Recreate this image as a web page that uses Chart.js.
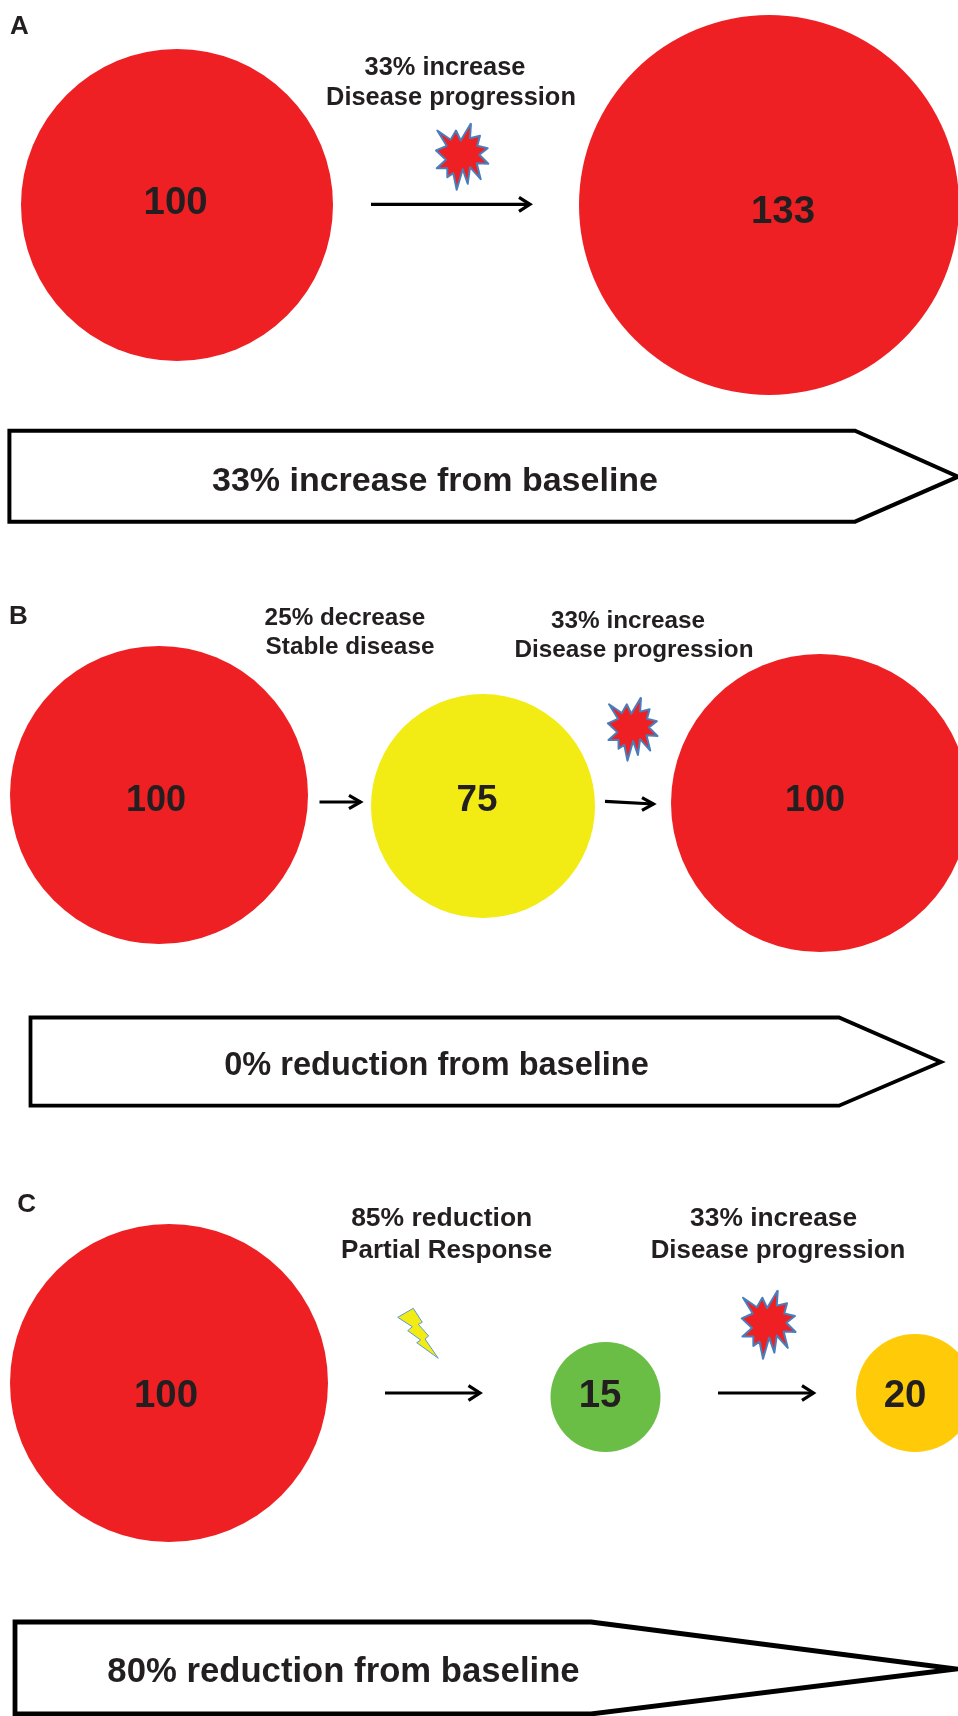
<!DOCTYPE html>
<html>
<head>
    <title>Tumour size change from baseline</title>
    <script src="https://cdn.jsdelivr.net/npm/chart.js"></script>
    <style>
        html, body { margin: 0; padding: 0; background: #fff; }
        canvas { display: block; }
    </style>
</head>
<body>
    <canvas id="tumourChart" width="958" height="1716"></canvas>

    <script>
        // tumours (axis units run 0-958 across, 0-1716 down)
        const tumourLabels = ['100', '133', '100', '75', '100', '100', '15', '20'];
        const tumourX = [177, 769, 159, 483, 820, 169, 605.5, 915];
        const tumourY = [205, 205, 795, 806, 803, 1383, 1397, 1393];
        const tumourR = [156, 190, 149, 112, 149, 159, 55, 59];
        const tumourColors = ['#EE2024', '#EE2024', '#EE2024', '#F2EB14', '#EE2024', '#EE2024', '#6ABD45', '#FFCB08'];

        // burst marker outline, offsets from its middle
        const burstDx = [9, 8, 18, 15.3, 25.7, 17.3, 26.3, 14.7, 18.7, 8, 5.7, 0.7, -5.3, -8.7, -14.7, -14.7, -25.3, -16, -26, -15.3, -24.7, -11.3, -6, -1.3, 9];
        const burstDy = [-33.3, -18.3, -20.7, -10.7, -8.3, -1.7, 7.3, 6.7, 22.7, 10.7, 27.3, 12.7, 33.3, 16.7, 20.7, 11.7, 11.7, 3.3, -6, -10.7, -26, -16.7, -26, -16, -33.3];
        const burstCentreX = [462, 632.5, 768.5];
        const burstCentreY = [156.5, 729, 1324.5];
        const burstScale = [1, 0.95, 1.03];

        const boltX = [397.7, 413.3, 422.3, 418.3, 428.7, 425, 438.3, 416.7, 420.7, 407.7, 412.3, 397.7];
        const boltY = [1317.3, 1308.3, 1322.3, 1324.3, 1336, 1339, 1358.3, 1342.7, 1340, 1330.7, 1326.7, 1317.3];

        // arrows: start, end, head back position and half height
        const arrowX1 = [371, 319.5, 605, 385, 718];
        const arrowY1 = [204.3, 802, 801.4, 1393, 1393];
        const arrowX2 = [530, 360.5, 653.5, 480, 813.5];
        const arrowY2 = [204.3, 802, 804, 1393, 1393];
        const arrowHeadX = [519, 349, 642, 468.5, 802];
        const arrowHeadH = [7, 6.6, 6.4, 7.4, 7.4];

        // baseline block arrows
        const blockLeft = [9.4, 30.5, 15];
        const blockTop = [430.7, 1017.5, 1622];
        const blockBottom = [521.7, 1105.7, 1714];
        const blockShoulder = [855, 839, 591];
        const blockTip = [958, 941, 956];
        const blockTipY = [476.7, 1062, 1669];
        const blockStroke = [4, 3.8, 4.8];

        // texts
        const textStrings = [
            'A', '33% increase', 'Disease progression', '33% increase from baseline',
            'B', '25% decrease', 'Stable disease', '33% increase', 'Disease progression', '0% reduction from baseline',
            'C', '85% reduction', 'Partial Response', '33% increase', 'Disease progression', '80% reduction from baseline'
        ];
        const textX = [19.5, 445, 451, 435, 18.5, 345, 350, 628, 634, 436.5, 26.7, 441.7, 446.6, 773.6, 778, 343.5];
        const textY = [34, 75, 105, 491, 623.6, 624.6, 654, 627.5, 657, 1075, 1212, 1226, 1257.5, 1226, 1257.5, 1682];
        const textSize = [26, 25.4, 25.4, 34, 26, 24.3, 24.3, 24.3, 24.3, 32.5, 26, 26.5, 26, 26.35, 25.9, 34.7];
        const tumourTextX = [175.6, 783, 156, 477, 815, 166, 600, 905];
        const tumourTextY = [214, 223, 811, 811, 811, 1407, 1407, 1407];
        const tumourTextSize = [38.4, 38.4, 36, 36.9, 36, 38.4, 38.4, 38.4];

        const textColor = '#231F20';

        function toPoints(xs, ys) {
            return xs.map((x, i) => ({ x: x, y: ys[i] }));
        }

        function outline(points, color, width) {
            return {
                type: 'scatter',
                data: points,
                showLine: true,
                fill: false,
                borderColor: color,
                borderWidth: width,
                borderJoinStyle: 'miter',
                tension: 0,
                pointRadius: 0,
                clip: false
            };
        }

        function filledOutline(points, fillColor, lineColor, width) {
            const ds = outline(points, lineColor, width);
            ds.fill = 'shape';
            ds.backgroundColor = fillColor;
            ds.borderJoinStyle = 'round';
            return ds;
        }

        const datasets = [];

        // one bubble per tumour so each keeps its own colour
        datasets.push({
            type: 'bubble',
            data: tumourX.map((x, i) => ({ x: x, y: tumourY[i], r: tumourR[i] })),
            backgroundColor: tumourColors,
            borderWidth: 0,
            clip: false
        });

        burstCentreX.forEach((cx, n) => {
            const pts = burstDx.map((dx, i) => ({
                x: cx + dx * burstScale[n],
                y: burstCentreY[n] + burstDy[i] * burstScale[n]
            }));
            datasets.push(filledOutline(pts, '#EE2024', '#4A7EBB', 2));
        });

        datasets.push(filledOutline(toPoints(boltX, boltY), '#F2EB14', '#5B9BD5', 1));

        arrowX1.forEach((x1, i) => {
            datasets.push(outline([{ x: x1, y: arrowY1[i] }, { x: arrowX2[i], y: arrowY2[i] }], '#000', 3.2));
            datasets.push(outline([
                { x: arrowHeadX[i], y: arrowY2[i] - arrowHeadH[i] },
                { x: arrowX2[i], y: arrowY2[i] },
                { x: arrowHeadX[i], y: arrowY2[i] + arrowHeadH[i] }
            ], '#000', 3.2));
        });

        // block outlines start halfway up the left edge so the corners join cleanly
        blockLeft.forEach((left, i) => {
            datasets.push(outline([
                { x: left, y: blockTipY[i] },
                { x: left, y: blockTop[i] },
                { x: blockShoulder[i], y: blockTop[i] },
                { x: blockTip[i], y: blockTipY[i] },
                { x: blockShoulder[i], y: blockBottom[i] },
                { x: left, y: blockBottom[i] },
                { x: left, y: blockTipY[i] }
            ], '#000', blockStroke[i]));
        });

        // inline plugin for the words, placed through the chart scales
        const wordsPlugin = {
            id: 'words',
            afterDatasetsDraw(chart) {
                const ctx = chart.ctx;
                const sx = chart.scales.x;
                const sy = chart.scales.y;
                ctx.save();
                ctx.fillStyle = textColor;
                ctx.textAlign = 'center';
                ctx.textBaseline = 'alphabetic';
                textStrings.forEach((s, i) => {
                    ctx.font = 'bold ' + textSize[i] + 'px "Liberation Sans", Arial, sans-serif';
                    ctx.fillText(s, sx.getPixelForValue(textX[i]), sy.getPixelForValue(textY[i]));
                });
                tumourLabels.forEach((s, i) => {
                    ctx.font = 'bold ' + tumourTextSize[i] + 'px "Liberation Sans", Arial, sans-serif';
                    ctx.fillText(s, sx.getPixelForValue(tumourTextX[i]), sy.getPixelForValue(tumourTextY[i]));
                });
                ctx.restore();
            }
        };

        new Chart(document.getElementById('tumourChart').getContext('2d'), {
            type: 'scatter',
            data: { datasets: datasets },
            plugins: [wordsPlugin],
            options: {
                responsive: false,
                animation: false,
                devicePixelRatio: 1,
                events: [],
                layout: { padding: 0, autoPadding: false },
                plugins: { legend: { display: false }, tooltip: { enabled: false } },
                scales: {
                    x: { type: 'linear', min: 0, max: 958, display: false },
                    y: { type: 'linear', min: 0, max: 1716, reverse: true, display: false }
                }
            }
        });
    </script>
</body>
</html>
